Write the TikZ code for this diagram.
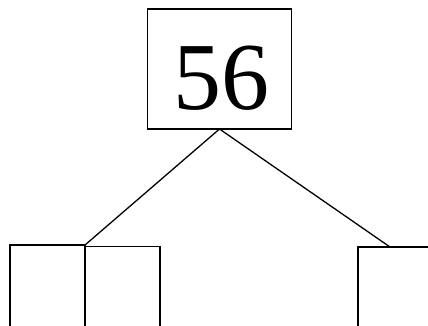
\documentclass[tikz,border=0pt]{standalone}
\usepackage{fontspec}
\setmainfont{Liberation Serif}
\begin{document}
\begin{tikzpicture}[x=1pt,y=-1pt,line width=1.3pt,
  cell/.style={draw,minimum width=75pt,minimum height=100pt,anchor=north west,inner sep=0pt,outer sep=0pt}]
\useasboundingbox (0,0) rectangle (428,325);
\clip (0,0) rectangle (428,325);
\node[draw,minimum width=144pt,minimum height=120pt,inner sep=0pt,outer sep=0pt] (root) at (219.5,69) {};
\node[inner sep=0pt,font=\fontsize{96}{96}\selectfont] (t) at (221,78.5) {56};
\node[cell] (l1) at (10,245) {};
\node[cell] (l2) at (85,246.5) {};
\node[cell] (r1) at (358,247) {};
\coordinate (rt) at (390,247);
\draw (root.south) -- (l1.north east);
\draw (root.south) -- (rt);
\end{tikzpicture}
\end{document}
